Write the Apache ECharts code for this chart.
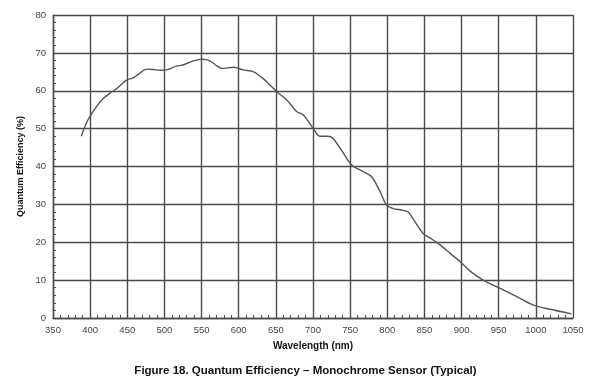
<!DOCTYPE html>
<html>
<head>
<meta charset="utf-8">
<script src="https://cdn.jsdelivr.net/npm/echarts@6/dist/echarts.min.js"></script>
<style>
html,body{margin:0;padding:0;background:#fff;}
#c{width:611px;height:382px;}
</style>
</head>
<body>
<div id="c"></div>
<script>
const wavelengths = [388,395,400,410,418,427,436,449,458,466,476,485,494,503,516,525,539,552,561,569,577,593,606,620,633,642,651,665,678,687,700,709,720,727,740,752,768,779,790,799,808,819,828,836,848,860,871,885,898,912,929,952,975,997,1019,1048];
const efficiency = [48.0,51.5,53.3,56.2,58.0,59.4,60.6,62.8,63.4,64.5,65.7,65.6,65.4,65.5,66.5,66.8,67.9,68.3,67.9,66.8,65.9,66.2,65.5,65.0,63.2,61.5,59.8,57.5,54.5,53.6,50.1,48.0,48.0,47.4,43.8,40.4,38.6,37.3,33.5,29.8,28.9,28.5,28.0,25.8,22.4,20.8,19.3,17.0,14.9,12.3,10.0,7.8,5.6,3.4,2.3,1.1];
const xTicks = {min:350, max:1050, interval:50};
const yTicks = {min:0, max:80, interval:10};
const titleText = 'Figure 18. Quantum Efficiency \u2013 Monochrome Sensor (Typical)';
const xName = 'Wavelength (nm)';
const yName = 'Quantum Efficiency (%)';

const chart = echarts.init(document.getElementById('c'), null, {renderer:'canvas'});
const font = 'Liberation Sans, Arial, sans-serif';
const gridColor = '#4a4a4a';
chart.setOption({
  animation:false,
  backgroundColor:'#fff',
  title:{
    text:titleText, left:'center', top:360,
    textStyle:{fontFamily:font, fontSize:11.5, fontWeight:'bold', color:'#111'}
  },
  grid:{left:53, right:38, top:15, bottom:64, containLabel:false},
  xAxis:{
    type:'value', min:xTicks.min, max:xTicks.max, interval:xTicks.interval,
    name:xName, nameLocation:'middle', nameGap:23,
    nameTextStyle:{fontFamily:font, fontSize:10, fontWeight:'bold', color:'#111'},
    axisLine:{show:true, lineStyle:{color:gridColor, width:1.4}},
    axisTick:{show:true, inside:true, length:3, lineStyle:{color:gridColor}},
    minorTick:{show:true, splitNumber:5, length:3, lineStyle:{color:gridColor}},
    axisLabel:{fontFamily:font, fontSize:9.5, color:'#444', margin:7, formatter:v=>String(v)},
    splitLine:{show:true, lineStyle:{color:gridColor, width:1.4}}
  },
  yAxis:{
    type:'value', min:yTicks.min, max:yTicks.max, interval:yTicks.interval,
    name:yName, nameLocation:'middle', nameGap:28,
    nameTextStyle:{fontFamily:font, fontSize:9, fontWeight:'bold', color:'#111'},
    axisLine:{show:true, lineStyle:{color:gridColor, width:1.4}},
    axisTick:{show:true, inside:true, length:3, lineStyle:{color:gridColor}},
    minorTick:{show:true, splitNumber:5, length:3, lineStyle:{color:gridColor}},
    axisLabel:{fontFamily:font, fontSize:9.5, color:'#444', margin:7},
    splitLine:{show:true, lineStyle:{color:gridColor, width:1.4}}
  },
  series:[{
    type:'line',
    data:wavelengths.map((w,i)=>[w, efficiency[i]]),
    smooth:0.3,
    showSymbol:false,
    lineStyle:{color:'#555', width:1.4}
  }]
});
</script>
</body>
</html>
